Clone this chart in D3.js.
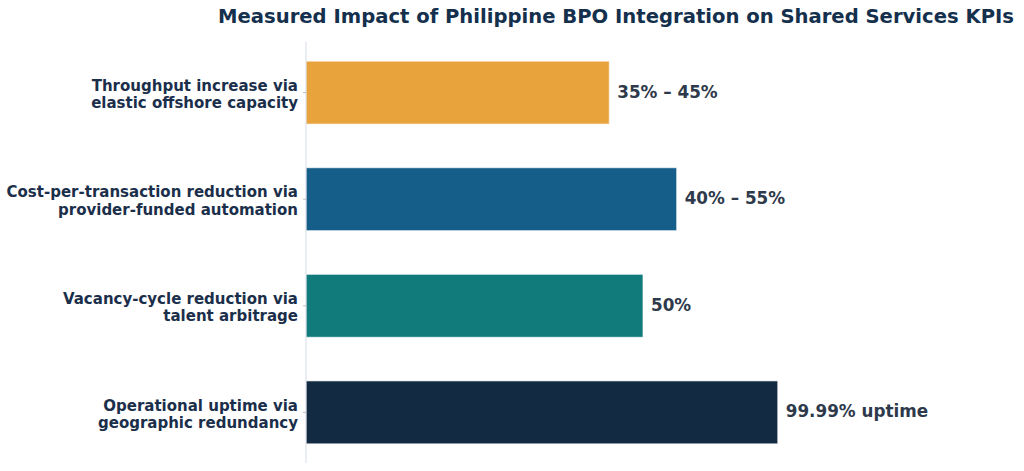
<!DOCTYPE html>
<html>
<head>
<meta charset="utf-8">
<script src="https://cdn.jsdelivr.net/npm/d3@7"></script>
<style>
    body { margin: 0; background: #fff; }
    text { font-family: "DejaVu Sans", sans-serif; font-weight: bold; }
</style>
</head>
<body>
<script>
// chart data
var categories = [
    ["Throughput increase via", "elastic offshore capacity"],
    ["Cost-per-transaction reduction via", "provider-funded automation"],
    ["Vacancy-cycle reduction via", "talent arbitrage"],
    ["Operational uptime via", "geographic redundancy"]
];
var values = [45, 55, 50, 70];
var valueLabels = ["35% \u2013 45%", "40% \u2013 55%", "50%", "99.99% uptime"];
var colors = ["#E8A33D", "#165E8A", "#107B7A", "#122B43"];

var width = 1024, height = 471;
var margin = {top: 42, right: 98, bottom: 8, left: 306};

var svg = d3.select("body").append("svg")
    .attr("width", width)
    .attr("height", height);

var x = d3.scaleLinear()
    .domain([0, 92])
    .range([margin.left, width - margin.right]);

var y = d3.scaleBand()
    .domain(d3.range(categories.length))
    .range([margin.top, height - margin.bottom])
    .paddingInner(0.41)
    .paddingOuter(0.18);

// title
svg.append("text")
    .attr("x", (margin.left + width - margin.right) / 2)
    .attr("y", 23)
    .attr("text-anchor", "middle")
    .attr("fill", "#14304D")
    .style("font-size", "19.6px")
    .text("Measured Impact of Philippine BPO Integration on Shared Services KPIs");

// bars
svg.selectAll("rect.bar")
    .data(values)
    .enter().append("rect")
    .attr("class", "bar")
    .attr("x", x(0))
    .attr("y", function(d, i) { return y(i); })
    .attr("width", function(d) { return x(d) - x(0); })
    .attr("height", y.bandwidth())
    .attr("fill", function(d, i) { return colors[i]; })
    .attr("stroke", "#ffffff")
    .attr("stroke-opacity", 0.6)
    .attr("stroke-width", 1);

// value labels
svg.selectAll("text.value")
    .data(values)
    .enter().append("text")
    .attr("class", "value")
    .attr("x", function(d) { return x(d) + 8; })
    .attr("y", function(d, i) { return y(i) + y.bandwidth() / 2 - 1; })
    .attr("dy", "0.36em")
    .attr("fill", "#2E3A4B")
    .style("font-size", "16.8px")
    .text(function(d, i) { return valueLabels[i]; });

// left axis
var yAxis = d3.axisLeft(y).tickSize(3).tickFormat("");
var axisG = svg.append("g")
    .attr("transform", "translate(" + margin.left + ",0)")
    .call(yAxis);
axisG.select(".domain").attr("stroke", "#D5DDE6").attr("d",
    "M0," + margin.top + "V" + (height - margin.bottom));
axisG.selectAll(".tick line").attr("stroke", "#B4BEC8");

// category labels, two lines each
var labels = svg.selectAll("text.cat")
    .data(categories)
    .enter().append("text")
    .attr("class", "cat")
    .attr("text-anchor", "end")
    .attr("fill", "#1B2F4B")
    .style("font-size", "15px")
    .attr("transform", function(d, i) {
        return "translate(" + (margin.left - 8) + "," + (y(i) + y.bandwidth() / 2 + 1.5) + ")";
    });

labels.selectAll("tspan")
    .data(function(d) { return d; })
    .enter().append("tspan")
    .attr("x", 0)
    .attr("y", function(d, j) { return (j - 0.5) * 17.5; })
    .attr("dy", "0.36em")
    .text(function(d) { return d; });
</script>
</body>
</html>
